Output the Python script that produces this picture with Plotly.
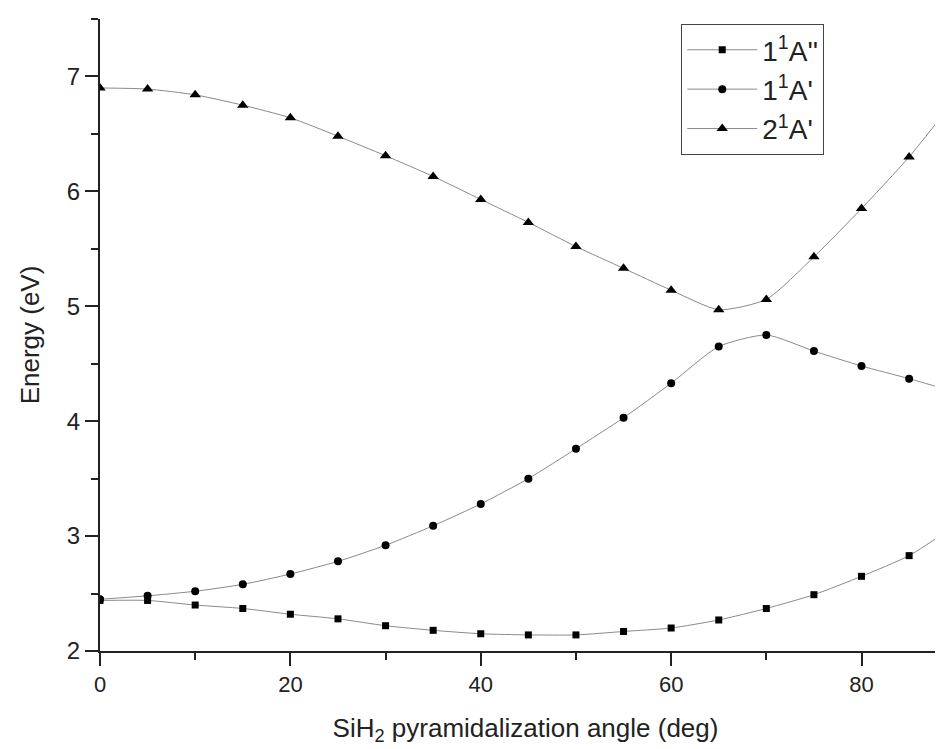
import plotly.graph_objects as go

angle = [0, 5, 10, 15, 20, 25, 30, 35, 40, 45, 50, 55, 60, 65, 70, 75, 80, 85, 90]
e_1A2 = [2.44, 2.44, 2.40, 2.37, 2.32, 2.28, 2.22, 2.18, 2.15, 2.14, 2.14, 2.17, 2.20, 2.27, 2.37, 2.49, 2.65, 2.83, 3.10]
e_1A1 = [2.45, 2.48, 2.52, 2.58, 2.67, 2.78, 2.92, 3.09, 3.28, 3.50, 3.76, 4.03, 4.33, 4.65, 4.75, 4.61, 4.48, 4.37, 4.25]
e_2A1 = [6.90, 6.89, 6.84, 6.75, 6.64, 6.48, 6.31, 6.13, 5.93, 5.73, 5.52, 5.33, 5.14, 4.97, 5.06, 5.43, 5.85, 6.30, 6.82]

names = ["1<sup>1</sup>A''", "1<sup>1</sup>A'", "2<sup>1</sup>A'"]
symbols = ["square", "circle", "triangle-up"]
sizes = [7, 8, 10]
series = [e_1A2, e_1A1, e_2A1]

fig = go.Figure()
for name, sym, sz, ys in zip(names, symbols, sizes, series):
    fig.add_trace(go.Scatter(
        x=angle, y=ys, name=name, mode="lines+markers",
        line=dict(color="#8a8a8a", width=1, shape="spline", smoothing=0.6),
        marker=dict(symbol=sym, size=sz, color="black"),
    ))

font = "Liberation Sans, Arial, sans-serif"
fig.update_layout(
    width=943, height=749,
    margin=dict(l=92, r=0, t=11, b=106),
    plot_bgcolor="white", paper_bgcolor="white",
    font=dict(family=font, color="#222", size=22),
    legend=dict(
        x=0.683, y=0.992, xanchor="left", yanchor="top",
        bgcolor="white", bordercolor="#444", borderwidth=1,
        font=dict(size=28, color="#222"),
        itemwidth=70, tracegroupgap=4,
    ),
    xaxis=dict(
        range=[0, 89.4], showgrid=False, zeroline=False,
        showline=True, linecolor="#222", linewidth=2,
        ticks="outside", ticklen=13, tickwidth=2, tickcolor="#222",
        tick0=0, dtick=20,
        minor=dict(ticks="outside", ticklen=7, tickwidth=2, tickcolor="#222", dtick=10),
        tickfont=dict(size=22),
        title=dict(text="SiH<sub>2</sub> pyramidalization angle (deg)", font=dict(size=26), standoff=22),
    ),
    yaxis=dict(
        range=[2, 7.5], showgrid=False, zeroline=False,
        showline=True, linecolor="#222", linewidth=2,
        ticks="outside", ticklen=13, tickwidth=2, tickcolor="#222",
        tick0=2, dtick=1,
        minor=dict(ticks="outside", ticklen=7, tickwidth=2, tickcolor="#222", dtick=0.5),
        tickfont=dict(size=24),
        title=dict(text="Energy (eV)", font=dict(size=26), standoff=20),
    ),
)

fig.write_html("out.html")
